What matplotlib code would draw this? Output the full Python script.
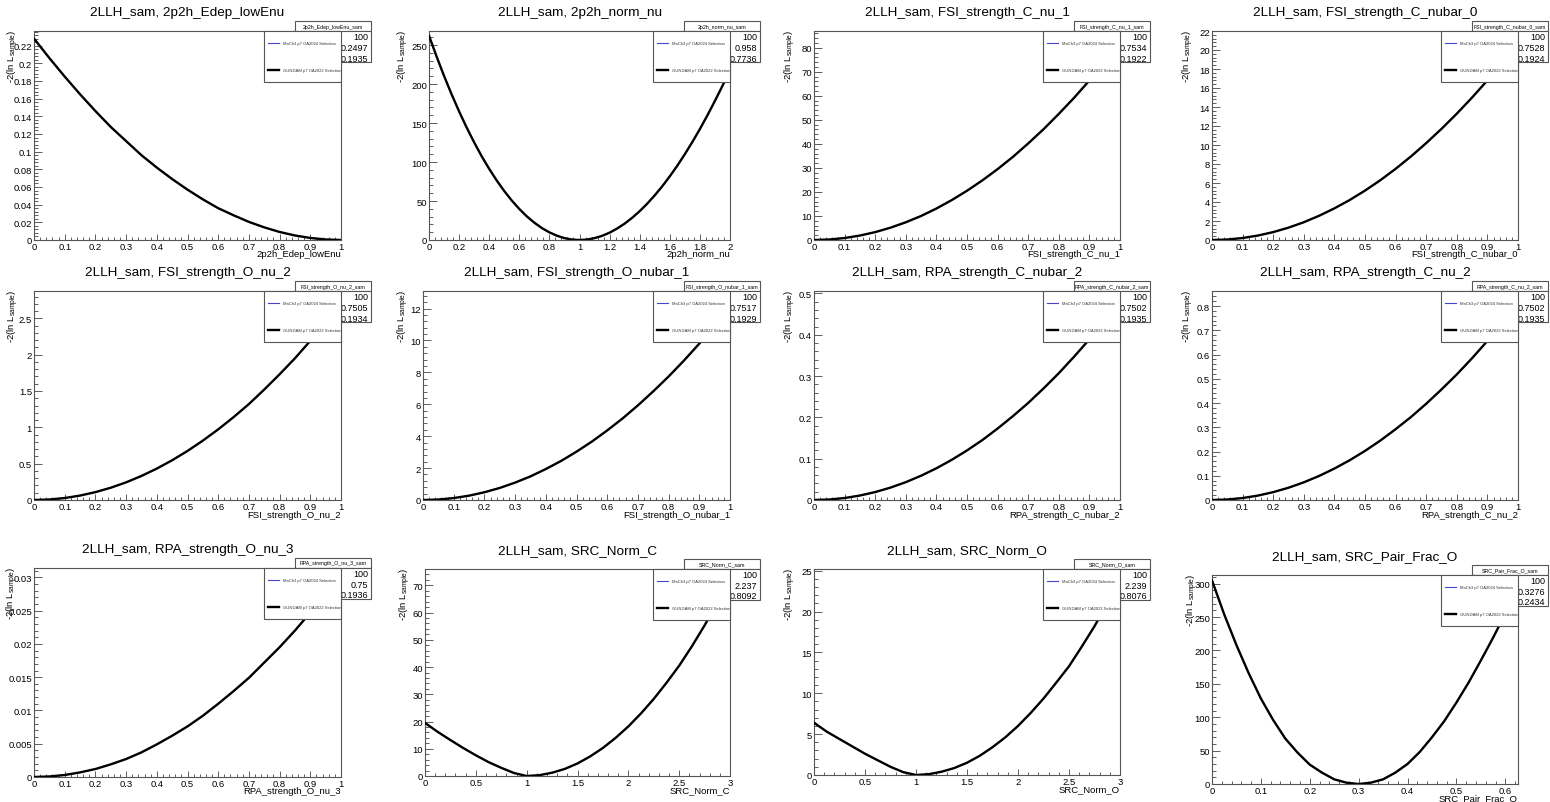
import matplotlib
matplotlib.use("Agg")
import matplotlib.pyplot as plt
from matplotlib.ticker import MultipleLocator, AutoMinorLocator, FuncFormatter
from matplotlib.patches import Rectangle
from matplotlib.lines import Line2D

plt.rcParams['font.family'] = ['Liberation Sans', 'DejaVu Sans']

W, H = 1550, 803

# ---- data ----
params = ['2p2h_Edep_lowEnu', '2p2h_norm_nu', 'FSI_strength_C_nu_1', 'FSI_strength_C_nubar_0',
          'FSI_strength_O_nu_2', 'FSI_strength_O_nubar_1', 'RPA_strength_C_nubar_2', 'RPA_strength_C_nu_2',
          'RPA_strength_O_nu_3', 'SRC_Norm_C', 'SRC_Norm_O', 'SRC_Pair_Frac_O']

# stats box: entries, mean, std dev
entries = ['100'] * 12
means = ['0.2497', '0.958', '0.7534', '0.7528', '0.7505', '0.7517',
         '0.7502', '0.7502', '0.75', '2.237', '2.239', '0.3276']
stds = ['0.1935', '0.7736', '0.1922', '0.1924', '0.1934', '0.1929',
        '0.1935', '0.1935', '0.1936', '0.8092', '0.8076', '0.2434']

x_unit = [0.0, 0.05, 0.1, 0.15, 0.2, 0.25, 0.3, 0.35, 0.4, 0.45, 0.5,
          0.55, 0.6, 0.65, 0.7, 0.75, 0.8, 0.85, 0.9, 0.95, 1.0]
llh_2p2h_edep = [0.228, 0.206, 0.185, 0.165, 0.146, 0.128, 0.112, 0.096, 0.082, 0.069, 0.057,
                 0.046, 0.036, 0.028, 0.0205, 0.0143, 0.0091, 0.0051, 0.0023, 0.0006, 0.0]
llh_fsi_c_nu1 = [0.0, 0.205, 0.82, 1.85, 3.28, 5.13, 7.38, 10.0, 13.1, 16.6, 20.5,
                 24.8, 29.5, 34.6, 40.2, 46.1, 52.5, 59.2, 66.4, 74.0, 82.0]
llh_fsi_c_nubar0 = [0.0, 0.052, 0.208, 0.468, 0.832, 1.30, 1.87, 2.55, 3.33, 4.21, 5.2,
                    6.29, 7.49, 8.79, 10.2, 11.7, 13.3, 15.0, 16.8, 18.8, 20.8]
llh_fsi_o_nu2 = [0.0, 0.0068, 0.027, 0.061, 0.108, 0.169, 0.243, 0.331, 0.432, 0.547, 0.675,
                 0.817, 0.972, 1.14, 1.32, 1.52, 1.73, 1.95, 2.19, 2.44, 2.7]
llh_fsi_o_nubar1 = [0.0, 0.030, 0.121, 0.272, 0.484, 0.756, 1.09, 1.48, 1.94, 2.45, 3.03,
                    3.66, 4.36, 5.11, 5.93, 6.81, 7.74, 8.74, 9.80, 10.9, 12.1]
llh_rpa_c_nubar2 = [0.0, 0.0012, 0.0048, 0.0108, 0.0192, 0.030, 0.0432, 0.0588, 0.0768, 0.0972, 0.12,
                    0.145, 0.173, 0.203, 0.235, 0.270, 0.307, 0.347, 0.389, 0.433, 0.48]
llh_rpa_c_nu2 = [0.0, 0.002, 0.0081, 0.0182, 0.0324, 0.0506, 0.0729, 0.0992, 0.1296, 0.164, 0.2025,
                 0.245, 0.292, 0.342, 0.397, 0.456, 0.518, 0.585, 0.656, 0.731, 0.81]
llh_rpa_o_nu3 = [0.0, 0.00008, 0.0003, 0.00069, 0.0012, 0.0019, 0.0027, 0.0037, 0.0049, 0.0062, 0.0076,
                 0.0092, 0.011, 0.0129, 0.0149, 0.0172, 0.0195, 0.022, 0.0247, 0.0275, 0.0305]

x_norm_nu = [0.0, 0.05, 0.1, 0.15, 0.2, 0.25, 0.3, 0.35, 0.4, 0.45, 0.5,
             0.55, 0.6, 0.65, 0.7, 0.75, 0.8, 0.85, 0.9, 0.95, 1.0,
             1.05, 1.1, 1.15, 1.2, 1.25, 1.3, 1.35, 1.4, 1.45, 1.5,
             1.55, 1.6, 1.65, 1.7, 1.75, 1.8, 1.85, 1.9, 1.95, 2.0]
llh_2p2h_norm_nu = [262, 235.5, 210.4, 186.9, 164.9, 144.3, 125.2, 107.4, 91.2, 76.3, 62.8,
                    50.6, 39.8, 30.3, 22.2, 15.3, 9.8, 5.5, 2.4, 0.6, 0.0,
                    0.6, 2.4, 5.3, 9.4, 14.7, 21.0, 28.5, 37.0, 46.6, 57.3,
                    68.9, 81.7, 95.3, 110.1, 125.7, 142.3, 159.9, 178.4, 197.7, 218]

x_src_norm = [0.0, 0.125, 0.25, 0.375, 0.5, 0.625, 0.75, 0.875, 1.0,
              1.125, 1.25, 1.375, 1.5, 1.625, 1.75, 1.875, 2.0,
              2.125, 2.25, 2.375, 2.5, 2.625, 2.75, 2.875, 3.0]
llh_src_norm_c = [19.5, 16.2, 13.2, 10.3, 7.6, 5.1, 3.0, 1.1, 0.0,
                  0.3, 1.2, 2.6, 4.6, 7.2, 10.3, 14.0, 18.2,
                  23.0, 28.3, 34.2, 40.5, 47.6, 55.3, 63.6, 72.5]
llh_src_norm_o = [6.4, 5.3, 4.4, 3.5, 2.6, 1.8, 1.0, 0.35, 0.0,
                  0.1, 0.4, 0.85, 1.5, 2.35, 3.4, 4.6, 6.0,
                  7.6, 9.35, 11.3, 13.3, 15.7, 18.2, 21.0, 24.0]

x_src_pair = [0.0, 0.025, 0.05, 0.075, 0.1, 0.125, 0.15, 0.175, 0.2, 0.225, 0.25, 0.275, 0.3,
              0.325, 0.35, 0.375, 0.4, 0.425, 0.45, 0.475, 0.5, 0.525, 0.55, 0.575, 0.6, 0.625]
llh_src_pair_o = [305, 254, 208, 166, 128, 96, 68, 47, 29, 17, 7, 2, 0.0,
                  2, 7, 17, 30, 48, 70, 94, 122, 152, 185, 219, 255, 292]

xs = [x_unit, x_norm_nu, x_unit, x_unit, x_unit, x_unit, x_unit, x_unit,
      x_unit, x_src_norm, x_src_norm, x_src_pair]
ys = [llh_2p2h_edep, llh_2p2h_norm_nu, llh_fsi_c_nu1, llh_fsi_c_nubar0,
      llh_fsi_o_nu2, llh_fsi_o_nubar1, llh_rpa_c_nubar2, llh_rpa_c_nu2,
      llh_rpa_o_nu3, llh_src_norm_c, llh_src_norm_o, llh_src_pair_o]

# ---- layout (pixels: left, top, right, bottom) ----
rects = [(34, 32, 341, 241), (429, 32, 730, 241), (814, 32, 1120, 241), (1212, 32, 1518, 241),
         (34, 292, 341, 501), (423, 292, 730, 501), (814, 292, 1120, 501), (1212, 292, 1518, 501),
         (34, 569, 341, 778), (425, 570, 730, 777), (814, 570, 1120, 776), (1212, 576, 1518, 785)]
ylab_x = [13, 403, 790, 1188, 13, 403, 790, 1188, 12, 405, 790, 1192]
xlims = [1, 2, 1, 1, 1, 1, 1, 1, 1, 3, 3, 0.626]
ylims = [0.2366, 268, 87, 22, 2.876, 13.1, 0.506, 0.862, 0.0314, 76, 25.2, 313]
xmaj = [0.1, 0.2, 0.1, 0.1, 0.1, 0.1, 0.1, 0.1, 0.1, 0.5, 0.5, 0.1]
ymaj = [0.02, 50, 10, 2, 0.5, 2, 0.1, 0.1, 0.005, 10, 5, 50]

frame_col = '#555555'
blue = '#4444cc'


def fx(x):
    return x / W


def fy(y):
    return 1 - y / H


fig = plt.figure(figsize=(W / 100, H / 100), dpi=100)
fmt = FuncFormatter(lambda v, p: f'{v:g}')

for i in range(12):
    l, t, r, b = rects[i]
    ax = fig.add_axes([fx(l), fy(b), (r - l) / W, (b - t) / H])
    ax.plot(xs[i], ys[i], color=blue, lw=0.8, zorder=2)
    ax.plot(xs[i], ys[i], color='black', lw=1.7, zorder=3, solid_capstyle='round')
    ax.set_xlim(0, xlims[i])
    ax.set_ylim(0, ylims[i])
    ax.xaxis.set_major_locator(MultipleLocator(xmaj[i]))
    ax.yaxis.set_major_locator(MultipleLocator(ymaj[i]))
    ax.xaxis.set_minor_locator(AutoMinorLocator(5))
    ax.yaxis.set_minor_locator(AutoMinorLocator(5))
    ax.xaxis.set_major_formatter(fmt)
    ax.yaxis.set_major_formatter(fmt)
    ax.tick_params(which='both', direction='in', top=False, right=False,
                   labelsize=6.8, pad=1.5, color='#444444', width=0.6)
    ax.tick_params(axis='x', which='major', length=4.3)
    ax.tick_params(axis='x', which='minor', length=2.2)
    ax.tick_params(axis='y', which='major', length=5.5)
    ax.tick_params(axis='y', which='minor', length=2.8)
    for s in ax.spines.values():
        s.set_color(frame_col)
        s.set_linewidth(0.8)

    # titles and axis labels
    fig.text(fx((l + r) / 2), fy(t - 19), '2LLH_sam, ' + params[i],
             ha='center', va='center', fontsize=9.7)
    fig.text(fx(r), fy(b + 14), params[i], ha='right', va='center', fontsize=6.8)
    fig.text(fx(ylab_x[i]), fy(t - 2), r'-2(ln L$_{\mathregular{sample}}$)',
             rotation=90, ha='center', va='top', fontsize=6.8)

    # stats box
    sw = 76
    fig.patches.append(Rectangle((fx(r + 30 - sw), fy(t)), sw / W, 10 / H,
                                 transform=fig.transFigure, facecolor='white',
                                 edgecolor=frame_col, lw=0.8, zorder=5))
    fig.text(fx(r + 30 - sw / 2), fy(t - 5), params[i] + '_sam', ha='center',
             va='center', fontsize=3.8, zorder=6)
    fig.patches.append(Rectangle((fx(r + 30 - sw), fy(t + 31)), sw / W, 31 / H,
                                 transform=fig.transFigure, facecolor='white',
                                 edgecolor=frame_col, lw=0.8, zorder=5))
    for k, val in enumerate([entries[i], means[i], stds[i]]):
        fig.text(fx(r + 27), fy(t + 6 + 10.5 * k), val, ha='right', va='center',
                 fontsize=6.5, zorder=6)

    # legend
    lw_, lh_ = 77, 51
    fig.patches.append(Rectangle((fx(r - lw_), fy(t + lh_)), lw_ / W, lh_ / H,
                                 transform=fig.transFigure, facecolor='white',
                                 edgecolor=frame_col, lw=0.8, zorder=7))
    fig.lines.append(Line2D([fx(r - lw_ + 4), fx(r - lw_ + 15)], [fy(t + 12)] * 2,
                            transform=fig.transFigure, color=blue, lw=0.8, zorder=8))
    fig.lines.append(Line2D([fx(r - lw_ + 4), fx(r - lw_ + 15)], [fy(t + 39)] * 2,
                            transform=fig.transFigure, color='black', lw=1.7, zorder=8))
    fig.text(fx(r - lw_ + 19), fy(t + 12), 'MaCh3 p7 OA2024 Selection', ha='left',
             va='center', fontsize=3, color='#333333', zorder=8)
    fig.text(fx(r - lw_ + 19), fy(t + 39), 'GUNDAM p7 OA2022 Selection', ha='left',
             va='center', fontsize=3, color='#333333', zorder=8)

fig.savefig('out.png', dpi=100)
